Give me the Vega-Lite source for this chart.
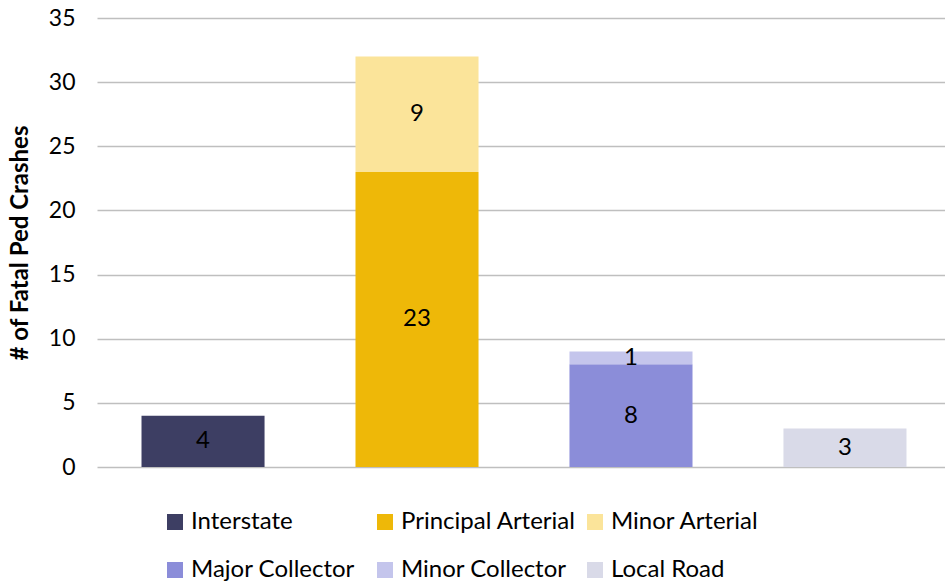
{
  "$schema": "https://vega.github.io/schema/vega-lite/v6.json",
  "width": 854,
  "height": 449,
  "autosize": {"type": "none"},
  "padding": {"left": 97, "top": 18, "right": 0, "bottom": 117},
  "background": "white",
  "config": {
    "view": {"stroke": null},
    "font": "Lato",
    "axis": {"labelFont": "Lato", "titleFont": "Lato"},
    "legend": {"labelFont": "Lato"}
  },
  "data": {
    "values": [
      {"group": "Interstate", "type": "Interstate", "count": 4, "rank": 1},
      {"group": "Arterial", "type": "Principal Arterial", "count": 23, "rank": 1},
      {"group": "Arterial", "type": "Minor Arterial", "count": 9, "rank": 2},
      {"group": "Collector", "type": "Major Collector", "count": 8, "rank": 1},
      {"group": "Collector", "type": "Minor Collector", "count": 1, "rank": 2},
      {"group": "Local", "type": "Local Road", "count": 3, "rank": 1}
    ]
  },
  "encoding": {
    "x": {
      "field": "group",
      "type": "nominal",
      "sort": ["Interstate", "Arterial", "Collector", "Local"],
      "scale": {"paddingInner": 0.425, "paddingOuter": 0.208},
      "axis": null
    }
  },
  "layer": [
    {
      "mark": {"type": "bar"},
      "encoding": {
        "y": {
          "field": "count",
          "type": "quantitative",
          "stack": "zero",
          "scale": {"domain": [0, 35]},
          "axis": {
            "values": [0, 5, 10, 15, 20, 25, 30, 35],
            "title": "# of Fatal Ped Crashes",
            "titleFontSize": 24,
            "titleFontWeight": "bold",
            "titleColor": "black",
            "titlePadding": 16,
            "labelFontSize": 23,
            "labelColor": "black",
            "labelPadding": 22,
            "ticks": false,
            "domain": false,
            "grid": true,
            "gridColor": "#bfbfbf",
            "gridWidth": 1.3
          }
        },
        "order": {"field": "rank", "type": "quantitative"},
        "color": {
          "field": "type",
          "type": "nominal",
          "scale": {
            "domain": ["Interstate", "Principal Arterial", "Minor Arterial", "Major Collector", "Minor Collector", "Local Road"],
            "range": ["#3d3e63", "#eeb808", "#fbe49a", "#8b8dd9", "#c4c5ec", "#d9dae8"]
          },
          "legend": {
            "title": null,
            "orient": "none",
            "legendX": 66,
            "legendY": 492,
            "direction": "horizontal",
            "columns": 3,
            "gridAlign": "all",
            "symbolType": "square",
            "symbolSize": 256,
            "symbolStrokeWidth": 0,
            "labelFontSize": 24,
            "labelColor": "black",
            "labelOffset": 4,
            "labelLimit": 300,
            "columnPadding": 7,
            "rowPadding": 24
          }
        }
      }
    },
    {
      "mark": {"type": "text", "fontSize": 24, "color": "black", "baseline": "middle"},
      "encoding": {
        "y": {"field": "count", "type": "quantitative", "stack": "zero", "bandPosition": 0.5},
        "order": {"field": "rank", "type": "quantitative"},
        "detail": {"field": "type", "type": "nominal"},
        "text": {"field": "count", "type": "quantitative"}
      }
    }
  ]
}
